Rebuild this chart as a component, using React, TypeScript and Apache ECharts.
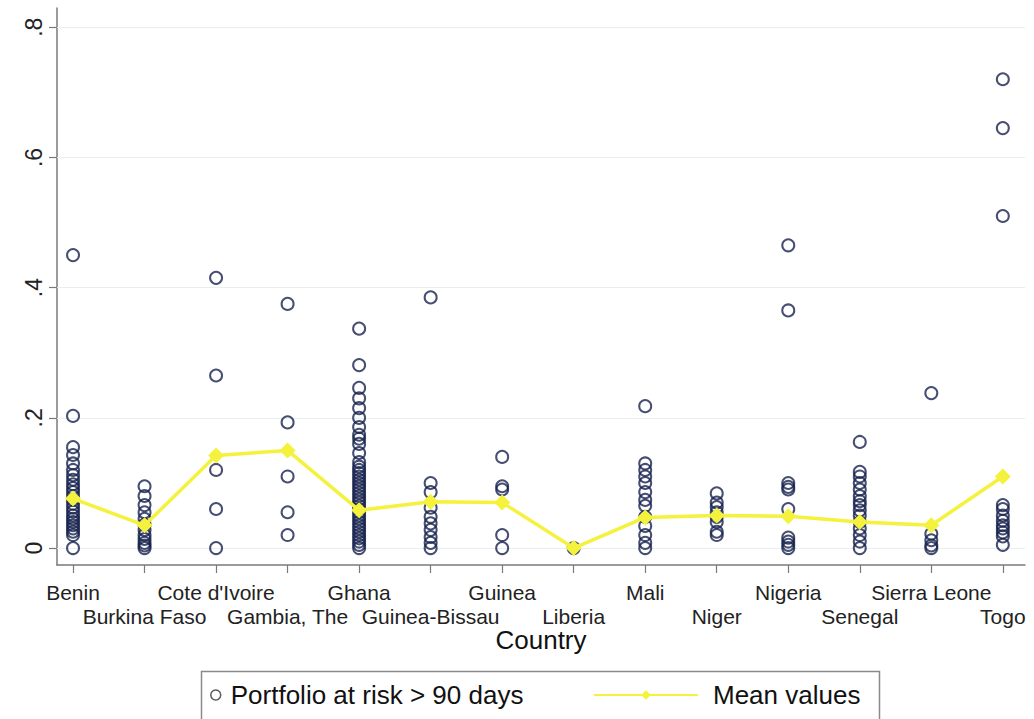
import React, { useEffect, useRef } from "react";
import * as echarts from "echarts";

const categories = [
  "Benin", "Burkina Faso", "Cote d'Ivoire", "Gambia, The", "Ghana", "Guinea-Bissau",
  "Guinea", "Liberia", "Mali", "Niger", "Nigeria", "Senegal", "Sierra Leone", "Togo",
];

const benin = [0.45, 0.203, 0.155, 0.143, 0.13, 0.12, 0.112, 0.105, 0.098, 0.092, 0.086, 0.08, 0.074, 0.068, 0.062, 0.056, 0.05, 0.045, 0.04, 0.035, 0.03, 0.025, 0.02, 0.0];
const burkinaFaso = [0.095, 0.08, 0.066, 0.055, 0.045, 0.036, 0.028, 0.02, 0.014, 0.008, 0.004, 0.0];
const coteDIvoire = [0.415, 0.265, 0.12, 0.06, 0.0];
const gambia = [0.375, 0.193, 0.11, 0.055, 0.02];
const ghana = [0.337, 0.281, 0.246, 0.23, 0.215, 0.2, 0.186, 0.174, 0.168, 0.16, 0.146, 0.132, 0.125, 0.12, 0.115, 0.11, 0.105, 0.1, 0.095, 0.09, 0.085, 0.08, 0.075, 0.07, 0.065, 0.06, 0.055, 0.05, 0.045, 0.04, 0.035, 0.03, 0.025, 0.02, 0.015, 0.01, 0.005, 0.0];
const guineaBissau = [0.385, 0.1, 0.086, 0.062, 0.048, 0.038, 0.028, 0.017, 0.008, 0.0];
const guinea = [0.14, 0.095, 0.09, 0.02, 0.0];
const liberia = [0.0];
const mali = [0.218, 0.13, 0.12, 0.11, 0.1, 0.086, 0.074, 0.065, 0.048, 0.034, 0.02, 0.008, 0.0];
const niger = [0.084, 0.07, 0.063, 0.055, 0.048, 0.04, 0.025, 0.02];
const nigeria = [0.465, 0.365, 0.1, 0.094, 0.09, 0.06, 0.016, 0.01, 0.005, 0.0];
const senegal = [0.163, 0.117, 0.11, 0.1, 0.09, 0.08, 0.072, 0.066, 0.058, 0.05, 0.04, 0.03, 0.02, 0.01, 0.0];
const sierraLeone = [0.238, 0.022, 0.012, 0.004, 0.0];
const togo = [0.72, 0.645, 0.51, 0.066, 0.06, 0.05, 0.042, 0.035, 0.03, 0.024, 0.018, 0.005];

const meanValues = [0.076, 0.035, 0.142, 0.15, 0.058, 0.071, 0.07, 0.0, 0.047, 0.05, 0.049, 0.04, 0.035, 0.11];

const yTicks = [0, 0.2, 0.4, 0.6, 0.8];

const countryValues = [
  benin, burkinaFaso, coteDIvoire, gambia, ghana, guineaBissau, guinea,
  liberia, mali, niger, nigeria, senegal, sierraLeone, togo,
];

const FONT = "'Liberation Sans', Arial, Helvetica, sans-serif";
const NAVY = "#18234f";
const YELLOW = "#f4f23c";
const AXIS_GREY = "#7a7a7a";

export default function App() {
  const ref = useRef<HTMLDivElement>(null);

  useEffect(() => {
    if (!ref.current) return;
    const chart = echarts.init(ref.current, null, { renderer: "svg" });

    const xPositions = categories.map((_, i) => i + 1);
    const rowOne = xPositions.filter((p) => p % 2 === 1);
    const rowTwo = xPositions.filter((p) => p % 2 === 0);
    const scatterData: number[][] = [];
    countryValues.forEach((vals, i) => {
      vals.forEach((v) => scatterData.push([i + 1, v]));
    });
    const meanData = meanValues.map((v, i) => [i + 1, v]);
    const nameOf = (v: number) => categories[Math.round(v) - 1] ?? "";

    const labelBase = {
      fontFamily: FONT,
      fontSize: 21,
      lineHeight: 21,
      color: "#222",
      hideOverlap: false,
      showMinLabel: true,
      showMaxLabel: true,
      formatter: nameOf,
    };

    chart.setOption({
      animation: false,
      backgroundColor: "#ffffff",
      textStyle: { fontFamily: FONT },
      grid: { left: 57, right: 9, top: 8, bottom: 154, containLabel: false },
      xAxis: [
        {
          type: "value",
          min: 0.776,
          max: 14.31,
          name: "Country",
          nameLocation: "middle",
          nameGap: 62,
          nameMoveOverlap: false,
          nameTextStyle: { fontFamily: FONT, fontSize: 26, lineHeight: 26, color: "#111" },
          axisLine: { show: true, onZero: false, lineStyle: { color: AXIS_GREY, width: 1.5 } },
          axisTick: { show: true, length: 8, customValues: xPositions, lineStyle: { color: AXIS_GREY, width: 1.2 } },
          axisLabel: { ...labelBase, customValues: rowOne, margin: 17 },
          splitLine: { show: false },
        },
        {
          type: "value",
          position: "bottom",
          offset: 0,
          min: 0.776,
          max: 14.31,
          axisLine: { show: false, onZero: false },
          axisTick: { show: false },
          axisLabel: { ...labelBase, customValues: rowTwo, margin: 41 },
          splitLine: { show: false },
        },
      ],
      yAxis: {
        type: "value",
        min: -0.026,
        max: 0.8295,
        axisLine: { show: true, onZero: false, lineStyle: { color: AXIS_GREY, width: 1.5 } },
        axisTick: { show: true, length: 8, customValues: yTicks, lineStyle: { color: AXIS_GREY, width: 1.2 } },
        axisLabel: {
          customValues: yTicks,
          showMinLabel: true,
          showMaxLabel: true,
          rotate: 90,
          margin: 12,
          fontFamily: FONT,
          fontSize: 23,
          color: "#222",
          formatter: (v: number) => (v === 0 ? "0" : String(v).replace("0.", ".")),
        },
        splitLine: { show: false },
      },
      legend: [
        {
          data: ["Portfolio at risk > 90 days"],
          left: 210,
          top: 682,
          padding: 0,
          itemWidth: 10,
          itemHeight: 10,
          itemStyle: { borderColor: "#333", borderWidth: 1.5 },
          textStyle: { fontFamily: FONT, fontSize: 26, color: "#111", padding: [0, 0, 0, 5] },
          selectedMode: false,
        },
        {
          data: ["Mean values"],
          left: 593,
          top: 682,
          padding: 0,
          itemWidth: 104,
          itemHeight: 12,
          lineStyle: { width: 2 },
          textStyle: { fontFamily: FONT, fontSize: 26, color: "#111", padding: [0, 0, 0, 10] },
          selectedMode: false,
        },
      ],
      graphic: [
        {
          type: "rect",
          left: 199,
          top: 669,
          shape: { width: 678, height: 49 },
          style: { fill: "none", stroke: "#8a8a8a", lineWidth: 1.5 },
          silent: true,
          z: -1,
        },
      ],
      series: [
        {
          name: "Portfolio at risk > 90 days",
          type: "scatter",
          xAxisIndex: 0,
          data: scatterData,
          symbol: "circle",
          symbolSize: 12,
          itemStyle: { color: "rgba(255,255,255,0)", borderColor: NAVY, borderWidth: 2 },
          z: 3,
          markLine: {
            silent: true,
            symbol: "none",
            label: { show: false },
            lineStyle: { color: "#e9eef0", width: 1, type: "solid" },
            data: yTicks.map((t) => ({ yAxis: t })),
            z: 1,
          },
        },
        {
          name: "Mean values",
          type: "line",
          xAxisIndex: 0,
          data: meanData,
          symbol: "diamond",
          symbolSize: 16,
          lineStyle: { color: YELLOW, width: 3.5 },
          itemStyle: { color: YELLOW },
          z: 4,
        },
      ],
    });

    return () => chart.dispose();
  }, []);

  return (
    <div
      ref={ref}
      style={{ position: "absolute", left: 0, top: 0, width: 1034, height: 719 }}
    />
  );
}
